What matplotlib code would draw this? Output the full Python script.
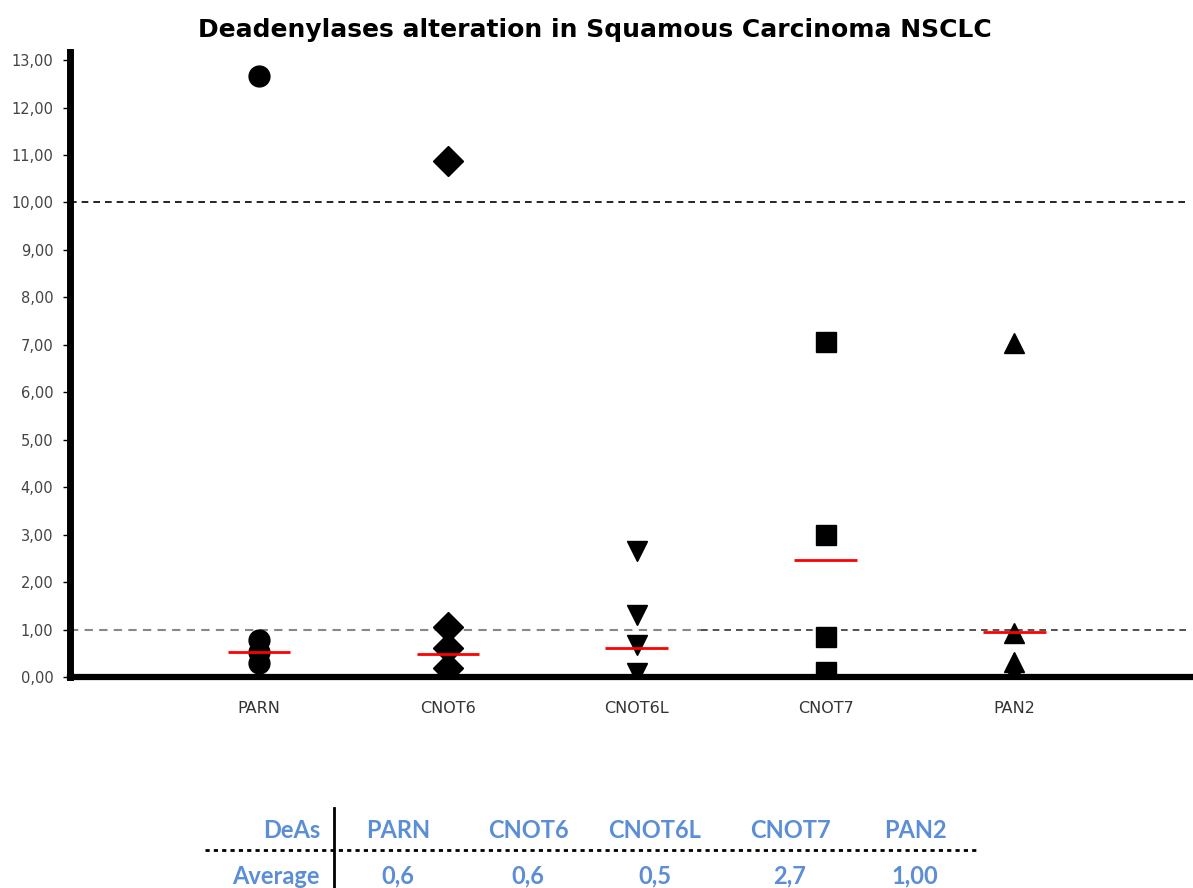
"""Deadenylases alteration scatter chart (Squamous Carcinoma NSCLC)."""
import matplotlib
matplotlib.use("Agg")
import matplotlib.pyplot as plt
from matplotlib.ticker import FuncFormatter

genes = ["PARN", "CNOT6", "CNOT6L", "CNOT7", "PAN2"]
markers = ["o", "D", "v", "s", "^"]

parn = [12.66, 0.78, 0.53, 0.29]
cnot6 = [10.87, 1.05, 0.61, 0.19]
cnot6l = [2.66, 1.31, 0.68, 0.09]
cnot7 = [7.06, 2.99, 0.84, 0.10]
pan2 = [7.04, 0.93, 0.32, 0.10]
series = [parn, cnot6, cnot6l, cnot7, pan2]

medians = [0.53, 0.49, 0.62, 2.47, 0.95]
averages = ["0,6", "0,6", "0,5", "2,7", "1,00"]

BLUE = "#5b8ed6"

fig = plt.figure(figsize=(11.93, 8.88), dpi=100)
ax = fig.add_axes([0.0587, 0.2376, 0.9388, 0.7038])

sizes = {"o": 15, "D": 15, "v": 15, "s": 15, "^": 15}
for i, (vals, m) in enumerate(zip(series, markers)):
    x = [i + 1] * len(vals)
    ax.plot(x, vals, linestyle="none", marker=m, color="black",
            markersize=sizes[m], zorder=3)
    ax.plot([i + 1 - 0.165, i + 1 + 0.165], [medians[i]] * 2, color="red",
            lw=2, zorder=4, solid_capstyle="butt")

# threshold lines
ax.axhline(10, color="black", ls=(0, (4, 3)), lw=1.2, zorder=1)
ax.plot([0, 3.34], [1, 1], color="#888888", ls=(0, (4, 3)), lw=1.5, zorder=1)
ax.plot([3.34, 6], [1, 1], color="#333333", ls=(0, (4, 3)), lw=1.2, zorder=1)

ax.set_xlim(0, 5.93)
ax.set_ylim(0, 13.17)
ax.set_yticks(range(0, 14))
ax.yaxis.set_major_formatter(FuncFormatter(lambda v, p: f"{v:.2f}".replace(".", ",")))
ax.set_xticks(range(1, 6))
ax.set_xticklabels(genes)
ax.tick_params(axis="y", labelsize=10.5, labelcolor="#444444", length=5, width=1, pad=7)
ax.tick_params(axis="x", labelsize=11.5, labelcolor="#333333", length=0, pad=17)

for side in ["top", "right"]:
    ax.spines[side].set_visible(False)
ax.spines["left"].set_linewidth(5)
ax.spines["bottom"].set_linewidth(4.5)

fig.text(0.499, 0.966, "Deadenylases alteration in Squamous Carcinoma NSCLC",
         ha="center", va="center", fontsize=18, fontweight="bold")

# summary table under the chart
col_x = [398, 528, 655, 790, 915]
tfont = dict(fontsize=17, fontweight="bold", color=BLUE, family="Lato",
             va="center")
fig.text(320 / 1193, 1 - 830 / 888, "DeAs", ha="right", **tfont)
fig.text(320 / 1193, 1 - 876 / 888, "Average", ha="right", **tfont)
for cx, g, a in zip(col_x, genes, averages):
    fig.text(cx / 1193, 1 - 830 / 888, g, ha="center", **tfont)
    fig.text(cx / 1193, 1 - 876 / 888, a, ha="center", **tfont)

fig.add_artist(plt.Line2D([334 / 1193] * 2, [1 - 808 / 888, 0], color="black",
                          lw=2, transform=fig.transFigure))
fig.add_artist(plt.Line2D([205 / 1193, 980 / 1193], [1 - 850 / 888] * 2,
                          color="black", lw=2, ls=(0, (1.5, 1.5)),
                          transform=fig.transFigure))

fig.savefig("out.png", dpi=100)
